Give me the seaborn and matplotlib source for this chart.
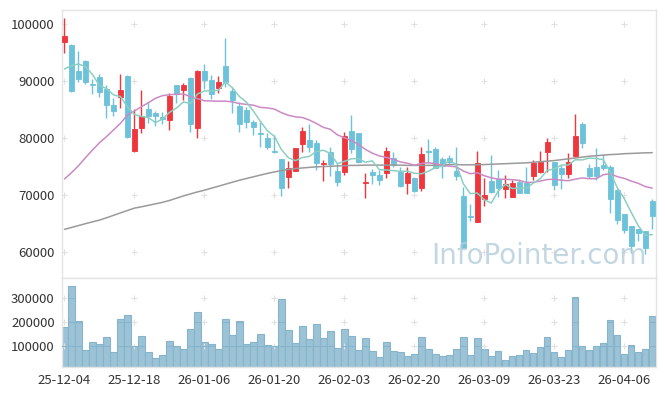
import numpy as np
import pandas as pd
import matplotlib
matplotlib.use("Agg")
import matplotlib.pyplot as plt
import seaborn as sns

# ---- data (85 trading days, 25-12-04 .. 26-04-10) ----
tick_labels = ["25-12-04", "25-12-18", "26-01-06", "26-01-20", "26-02-03",
               "26-02-20", "26-03-09", "26-03-23", "26-04-06"]

opens = [96950, 96370, 91810, 93560, 89610, 90700, 88650, 85850, 87200, 90930,
         77830, 81870, 85090, 84390, 83790, 83160, 89350, 88480, 90530, 81870,
         91810, 90230, 88880, 92690, 88300, 85670, 84970, 82920, 80990, 80100,
         77780, 76370, 73270, 74320, 78950, 79700, 79130, 75450, 77650, 74270,
         74150, 81290, 80880, 72200, 74150, 73570, 73970, 76500, 74270, 72220,
         72990, 71340, 77730, 78130, 76370, 76600, 74270, 69890, 66330, 65270,
         69360, 72520, 72870, 71060, 69760, 72390, 72110, 73390, 74150, 77650,
         75900, 74850, 73690, 76900, 82510, 74800, 74970, 75380, 75030, 70940,
         66680, 64620, 64050, 63690, 69010]
closes = [97950, 88350, 90405, 89930, 89350, 88180, 85845, 84790, 88475, 80285,
          81635, 83915, 83915, 83970, 83440, 87480, 87720, 89350, 82460, 91810,
          90230, 87775, 89830, 89830, 86720, 82460, 82915, 81935, 80810, 78530,
          77550, 71340, 74740, 78250, 81285, 78530, 75725, 75725, 75495, 72390,
          80410, 78075, 75900, 72290, 73570, 72690, 77780, 75320, 71640, 73865,
          70760, 77250, 77600, 74850, 75145, 75900, 73445, 60815, 66200, 75620,
          70060, 70640, 71235, 71935, 72110, 70460, 70460, 75725, 75900, 79300,
          71810, 73740, 75900, 80410, 79230, 73390, 73390, 74850, 69410, 65675,
          63920, 61165, 63340, 60710, 66430]
highs = [101050, 96550, 95320, 93690, 90350, 91280, 89350, 87130, 91280, 91060,
         85090, 88480, 86430, 84790, 84670, 87900, 89350, 89650, 90810, 91990,
         92990, 91110, 90930, 97550, 88780, 86320, 85550, 83220, 82920, 80880,
         80580, 76370, 76020, 78250, 81940, 82460, 79700, 76200, 78530, 75620,
         81160, 84090, 80990, 73870, 74570, 74440, 78430, 77650, 75030, 74920,
         73270, 78430, 79830, 78530, 76780, 77080, 78530, 71380, 68480, 77830,
         73100, 77080, 74440, 73570, 72690, 72690, 75030, 76200, 77780, 80110,
         75900, 75320, 77380, 84220, 82920, 75500, 78250, 77250, 75320, 71060,
         66680, 64620, 64050, 63690, 69360]
lows = [94910, 88180, 89930, 89480, 87720, 87200, 83620, 83920, 85270, 80110,
        77660, 80880, 82640, 82160, 82510, 81460, 86140, 86720, 81160, 80000,
        88600, 86900, 87900, 89060, 84390, 81060, 81760, 80580, 78530, 78080,
        77370, 69890, 71240, 74320, 77650, 77650, 74440, 72570, 73390, 71640,
        73570, 77420, 75730, 69480, 71940, 71810, 72990, 74920, 71520, 70180,
        70640, 70760, 75670, 74740, 73100, 75320, 72690, 60680, 65500, 65270,
        68130, 70360, 69760, 69480, 69760, 70460, 70410, 72690, 73970, 74150,
        70940, 71060, 72990, 76780, 78250, 72990, 72690, 74440, 66850, 64980,
        63400, 59830, 61990, 59710, 64100]
volumes = [179, 351, 205, 85, 118, 110, 137, 76, 212, 230,
           101, 143, 76, 50, 64, 122, 101, 89, 172, 242,
           118, 110, 89, 212, 147, 205, 110, 118, 151, 104,
           101, 297, 168, 114, 185, 130, 193, 133, 162, 92,
           171, 142, 83, 133, 79, 54, 117, 79, 75, 58,
           67, 138, 87, 67, 58, 62, 87, 138, 62, 133,
           87, 58, 79, 42, 58, 62, 83, 71, 96, 138,
           75, 54, 83, 304, 100, 83, 100, 112, 208, 146,
           67, 104, 75, 87, 225]  # thousands

ma5 = [92160, 92740, 93040, 92560, 91197, 89243, 88742, 87619, 87328, 85515,
       84206, 83820, 83645, 82744, 83375, 84544, 85305, 86392, 86090, 87764,
       88314, 88325, 88421, 89895, 88877, 87323, 86351, 84772, 82968, 81330,
       80348, 78033, 76594, 76082, 76633, 76829, 77706, 77903, 77352, 75573,
       75949, 76419, 76454, 75813, 76049, 74505, 74446, 74330, 74200, 74259,
       73873, 73767, 74223, 74865, 75121, 76149, 75388, 72031, 70301, 70396,
       69228, 68667, 70751, 71898, 71196, 71276, 71240, 72138, 72931, 74369,
       74639, 75295, 75330, 76232, 76218, 76534, 76464, 76254, 74054, 71343,
       69449, 67004, 64702, 62962, 63113]
ma20 = [72870, 73970, 75200, 76600, 77950, 79230, 80290, 81460, 82640, 84090,
        84790, 85550, 86250, 87020, 87480, 87650, 87720, 87780, 87300, 86963,
        86577, 86548, 86519, 86514, 86383, 86097, 85950, 85808, 85424, 85337,
        85132, 84504, 84045, 83759, 83651, 83204, 82604, 81923, 81574, 80603,
        80112, 79627, 78931, 78054, 77396, 76908, 76651, 76320, 75862, 75629,
        75289, 75585, 75728, 75558, 75251, 75119, 75005, 74260, 73795, 73956,
        73439, 73067, 72834, 72816, 72743, 72632, 72266, 72286, 72499, 72771,
        72823, 72648, 72563, 72841, 73045, 72919, 72917, 73618, 73779, 73282,
        72975, 72501, 72106, 71545, 71261]
ma_long = [64040, 64370, 64700, 65030, 65350, 65650, 66060, 66490, 66920, 67340,
           67760, 67990, 68250, 68510, 68770, 69100, 69500, 69900, 70250, 70600,
           70900, 71250, 71600, 71950, 72300, 72650, 72950, 73250, 73550, 73850,
           74100, 74350, 74550, 74700, 74800, 74900, 75000, 75050, 75100, 75150,
           75200, 75250, 75250, 75300, 75300, 75300, 75300, 75300, 75300, 75250,
           75250, 75250, 75250, 75300, 75350, 75400, 75400, 75350, 75350, 75350,
           75400, 75450, 75500, 75550, 75600, 75650, 75700, 75800, 75900, 76000,
           76100, 76250, 76400, 76550, 76700, 76850, 76950, 77050, 77150, 77200,
           77300, 77350, 77400, 77450, 77480]

price_ticks = [60000, 70000, 80000, 90000, 100000]
volume_ticks = [100000, 200000, 300000]

UP, DOWN = "#ee363c", "#6cc2da"

df = pd.DataFrame({"open": opens, "high": highs, "low": lows, "close": closes,
                   "volume": np.array(volumes) * 1000,
                   "ma5": ma5, "ma20": ma20, "ma_long": ma_long})
df["idx"] = np.arange(len(df))
df["color"] = np.where(df["close"] >= df["open"], UP, DOWN)

sns.set_style("white")
plt.rcParams["font.family"] = ["Noto Sans CJK KR", "DejaVu Sans"]

fig = plt.figure(figsize=(6.65, 3.96), dpi=100)
W, H = 665, 396
ax = fig.add_axes([61.7 / W, 1 - 278.3 / H, 594 / W, 268 / H])
axv = fig.add_axes([61.7 / W, 1 - 366.7 / H, 594 / W, 88.4 / H], sharex=ax)

# candles
ax.vlines(df["idx"], df["low"], df["high"], colors=df["color"], lw=1, zorder=2)
body_lo = df[["open", "close"]].min(axis=1)
body_h = (df["close"] - df["open"]).abs()
ax.bar(df["idx"], body_h, bottom=body_lo, width=0.7, color=df["color"],
       edgecolor=df["color"], linewidth=0.6, zorder=3)

# moving averages
sns.lineplot(data=df, x="idx", y="ma_long", ax=ax, color="#9a9a9a", lw=1.1, zorder=4)
sns.lineplot(data=df, x="idx", y="ma20", ax=ax, color="#cc8ac4", lw=1.1, zorder=4)
sns.lineplot(data=df, x="idx", y="ma5", ax=ax, color="#8ccfc2", lw=1.1, zorder=4)

# volume
sns.barplot(data=df, x="idx", y="volume", ax=axv, native_scale=True, width=0.92,
            color="#9cc2d5", edgecolor="#86b4cd", linewidth=0.8, saturation=1)
for lvl in volume_ticks:
    sel = df[df["volume"] > lvl]
    axv.hlines([lvl] * len(sel), sel["idx"] - 0.46, sel["idx"] + 0.46,
               colors="#86b4cd", lw=0.8, zorder=3)

xt = np.arange(0, len(df), 10)
for a, yt, lim in [(ax, price_ticks, (55450, 102450)),
                   (axv, volume_ticks, (15000, 383000))]:
    a.set_ylim(*lim)
    a.set_yticks(yt)
    a.set_yticklabels([str(v) for v in yt])
    a.set_xlabel("")
    a.set_ylabel("")
    gx, gy = np.meshgrid(xt, yt)
    a.plot(gx.ravel(), gy.ravel(), "+", color="#e0e0e0", ms=4.5, mew=0.8, zorder=1)
    for s in a.spines.values():
        s.set_color("#e4e4e4")
        s.set_linewidth(1)
    a.tick_params(length=0, labelsize=9.5, colors="#333333", pad=5)

axv.set_xlim(-0.4, len(df) - 0.5)
axv.set_xticks(xt)
axv.set_xticklabels(tick_labels)
ax.tick_params(labelbottom=False)

ax.text(0.6217, 0.052, "InfoPointer.com", transform=ax.transAxes, ha="left",
        va="baseline", fontsize=20, color="#b4cddc", alpha=0.8, zorder=6,
        family="DejaVu Sans")

fig.savefig("out.png", dpi=100)
